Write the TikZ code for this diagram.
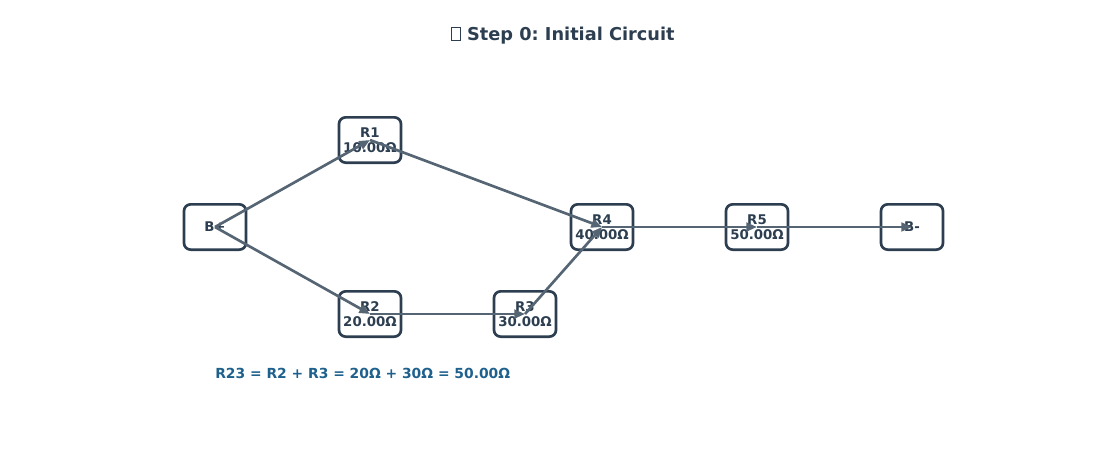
\documentclass[tikz,border=0pt]{standalone}
\usepackage{fontspec}
\setmainfont{DejaVu Sans}
\usetikzlibrary{arrows.meta}
\definecolor{boxc}{HTML}{2C3E50}
\definecolor{edgec}{HTML}{566573}
\definecolor{notec}{HTML}{1F618D}
\newcommand{\tofubox}{{\setlength{\fboxsep}{0pt}\setlength{\fboxrule}{0.6pt}\fbox{\rule{0pt}{0.72em}\hspace{0.45em}}}}
\frenchspacing
\begin{document}
\begin{tikzpicture}[x=0.75pt,y=-0.75pt,
  res/.style={draw=boxc,line width=2pt,rounded corners=5pt,fill=white,
    minimum width=46.5pt,minimum height=34pt,inner sep=0pt,align=center,
    text=boxc,font=\fontsize{10pt}{11.2pt}\selectfont\bfseries},
  wire/.style={draw=edgec,line width=2pt,-{Triangle[length=8pt,width=6.5pt]}}]
\useasboundingbox (0,0) rectangle (1100,450);
\node[text=boxc,font=\fontsize{13.3pt}{15pt}\selectfont\bfseries] (title) at (563,35.5) {\tofubox\ Step 0: Initial Circuit};
\node[res] (bp) at (215,227) {B+};
\node[res] (r1) at (370,140) {R1\\10.00Ω};
\node[res] (r2) at (370,314) {R2\\20.00Ω};
\node[res] (r3) at (525,314) {R3\\30.00Ω};
\node[res] (r4) at (602,227) {R4\\40.00Ω};
\node[res] (r5) at (757,227) {R5\\50.00Ω};
\node[res] (bm) at (912,227) {B-};
\draw[wire] (bp.center) -- (r1.center);
\draw[wire] (bp.center) -- (r2.center);
\draw[wire] (r1.center) -- (r4.center);
\draw[wire] (r2.center) -- (r3.center);
\draw[wire] (r3.center) -- (r4.center);
\draw[wire] (r4.center) -- (r5.center);
\draw[wire] (r5.center) -- (bm.center);
\node[anchor=west,inner sep=0pt,text=notec,font=\fontsize{10.4pt}{12pt}\selectfont\bfseries] (note) at (215,373) {R23 = R2 + R3 = 20Ω + 30Ω = 50.00Ω};
\end{tikzpicture}
\end{document}
